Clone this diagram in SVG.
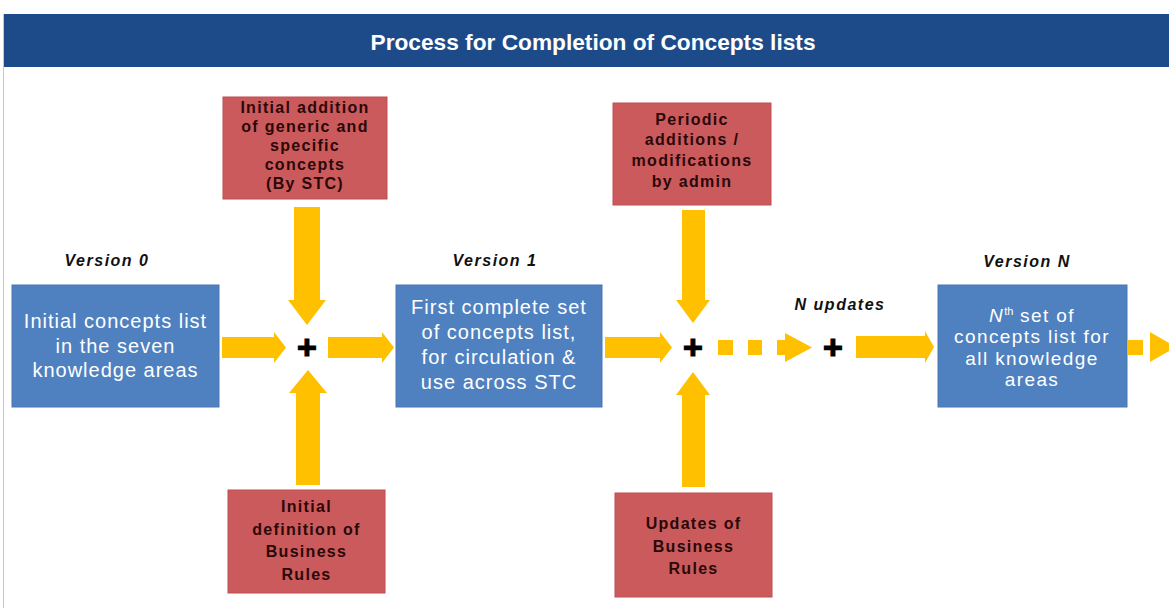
<svg xmlns="http://www.w3.org/2000/svg" width="1169" height="608" viewBox="0 0 1169 608">
  <style>
    .bg { fill: #ffffff; }
    .banner { fill: #1d4b8a; }
    .banner-text { font-family: "Liberation Sans", Arial, sans-serif; font-weight: bold; font-size: 22px; fill: #ffffff; text-anchor: middle; }
    .version { font-family: "Liberation Sans", Arial, sans-serif; font-weight: bold; font-style: italic; font-size: 16px; letter-spacing: 1.5px; fill: #111111; text-anchor: middle; }
    .stage { fill: #4f81c0; stroke: #4877b4; stroke-width: 1; }
    .stage-text { font-family: "Liberation Sans", Arial, sans-serif; font-size: 20px; letter-spacing: 1px; fill: #ffffff; text-anchor: middle; }
    .stage-text-n { font-family: "Liberation Sans", Arial, sans-serif; font-size: 19px; letter-spacing: 1.4px; fill: #ffffff; text-anchor: middle; }
    .input { fill: #cb5a5c; stroke: #c04f52; stroke-width: 1; }
    .input-text { font-family: "Liberation Sans", Arial, sans-serif; font-weight: bold; font-size: 16px; letter-spacing: 1.3px; fill: #2a0808; text-anchor: middle; }
    .flow { fill: #ffc000; }
    .plus { font-family: "Liberation Sans", Arial, sans-serif; font-weight: bold; font-size: 34px; fill: #000000; stroke: #000000; stroke-width: 1.2px; text-anchor: middle; }
  </style>

  <rect class="bg" x="0" y="0" width="1169" height="608"/>
  <line x1="3.5" y1="14" x2="3.5" y2="608" stroke="#c8c8c8" stroke-width="1"/>

  <!-- heading band -->
  <g id="title">
    <rect class="banner" x="4" y="14" width="1165" height="53"/>
    <text class="banner-text" x="593" y="50" textLength="445" lengthAdjust="spacingAndGlyphs">Process for Completion of Concepts lists</text>
  </g>

  <!-- version captions -->
  <g id="labels">
    <text class="version" x="107" y="266">Version 0</text>
    <text class="version" x="495" y="266">Version 1</text>
    <text class="version" x="1027" y="267">Version N</text>
    <text class="version" x="840" y="310">N updates</text>
  </g>

  <!-- yellow block arrows -->
  <g id="connectors">
    <!-- version 0 into first merge -->
    <polygon class="flow" points="222,337 274,337 274,332 286,347.5 274,363 274,358 222,358"/>
    <!-- first merge into version 1 -->
    <polygon class="flow" points="328,337 382,337 382,332 394,347.5 382,363 382,358 328,358"/>
    <!-- version 1 into second merge -->
    <polygon class="flow" points="605,337 660,337 660,332 672,347.5 660,363 660,358 605,358"/>
    <!-- dotted run of N updates -->
    <rect class="flow" x="718" y="340" width="15" height="15"/>
    <rect class="flow" x="748" y="340" width="14" height="15"/>
    <polygon class="flow" points="777,340 785,340 785,333 812,347.5 785,362 785,355 777,355"/>
    <!-- last merge into version N -->
    <polygon class="flow" points="856,336 925,336 925,331 934,347 925,363 925,358 856,358"/>
    <!-- continuation beyond version N -->
    <rect class="flow" x="1128" y="340" width="15" height="15"/>
    <polygon class="flow" points="1150,332 1176,347 1150,362"/>

    <!-- STC additions down into first merge -->
    <polygon class="flow" points="294,207 320,207 320,300 326,300 307,325 288,300 294,300"/>
    <!-- business rules up into first merge -->
    <polygon class="flow" points="296,485 320,485 320,393 327,393 308,370 289,393 296,393"/>
    <!-- admin additions down into second merge -->
    <polygon class="flow" points="682,210 705,210 705,300 710,300 693,323 676,300 682,300"/>
    <!-- rule updates up into second merge -->
    <polygon class="flow" points="682,487 705,487 705,395 710,395 693,372 676,395 682,395"/>
  </g>

  <!-- merge points -->
  <g id="merge-1"><text class="plus" x="307" y="359">+</text></g>
  <g id="merge-2"><text class="plus" x="693" y="359">+</text></g>
  <g id="merge-3"><text class="plus" x="833" y="359">+</text></g>

  <!-- concept list versions -->
  <g id="version-0">
    <rect class="stage" x="12" y="285" width="207" height="122"/>
    <text class="stage-text" x="115.5" y="328">Initial concepts list</text>
    <text class="stage-text" x="115.5" y="353">in the seven</text>
    <text class="stage-text" x="115.5" y="377">knowledge areas</text>
  </g>

  <g id="version-1">
    <rect class="stage" x="396" y="285" width="206" height="122"/>
    <text class="stage-text" x="499" y="314">First complete set</text>
    <text class="stage-text" x="499" y="339">of concepts list,</text>
    <text class="stage-text" x="499" y="364">for circulation &amp;</text>
    <text class="stage-text" x="499" y="389">use across STC</text>
  </g>

  <g id="version-n">
    <rect class="stage" x="938" y="285" width="189" height="122"/>
    <text class="stage-text-n" x="1032" y="322"><tspan font-style="italic">N</tspan><tspan font-size="11" dy="-7" letter-spacing="0">th</tspan><tspan dy="7"> set of</tspan></text>
    <text class="stage-text-n" x="1032" y="343">concepts list for</text>
    <text class="stage-text-n" x="1032" y="365">all knowledge</text>
    <text class="stage-text-n" x="1032" y="386">areas</text>
  </g>

  <!-- inputs feeding the merges -->
  <g id="stc-additions">
    <rect class="input" x="223" y="97" width="164" height="102"/>
    <text class="input-text" x="305" y="113">Initial addition</text>
    <text class="input-text" x="305" y="132">of generic and</text>
    <text class="input-text" x="305" y="151">specific</text>
    <text class="input-text" x="305" y="170">concepts</text>
    <text class="input-text" x="305" y="189">(By STC)</text>
  </g>

  <g id="business-rules">
    <rect class="input" x="228" y="490" width="157" height="103"/>
    <text class="input-text" x="306.5" y="512">Initial</text>
    <text class="input-text" x="306.5" y="535">definition of</text>
    <text class="input-text" x="306.5" y="557">Business</text>
    <text class="input-text" x="306.5" y="580">Rules</text>
  </g>

  <g id="admin-additions">
    <rect class="input" x="613" y="103" width="158" height="102"/>
    <text class="input-text" x="692" y="125">Periodic</text>
    <text class="input-text" x="692" y="145">additions /</text>
    <text class="input-text" x="692" y="166">modifications</text>
    <text class="input-text" x="692" y="187">by admin</text>
  </g>

  <g id="rule-updates">
    <rect class="input" x="615" y="493" width="157" height="104"/>
    <text class="input-text" x="693.5" y="529">Updates of</text>
    <text class="input-text" x="693.5" y="552">Business</text>
    <text class="input-text" x="693.5" y="574">Rules</text>
  </g>
</svg>
